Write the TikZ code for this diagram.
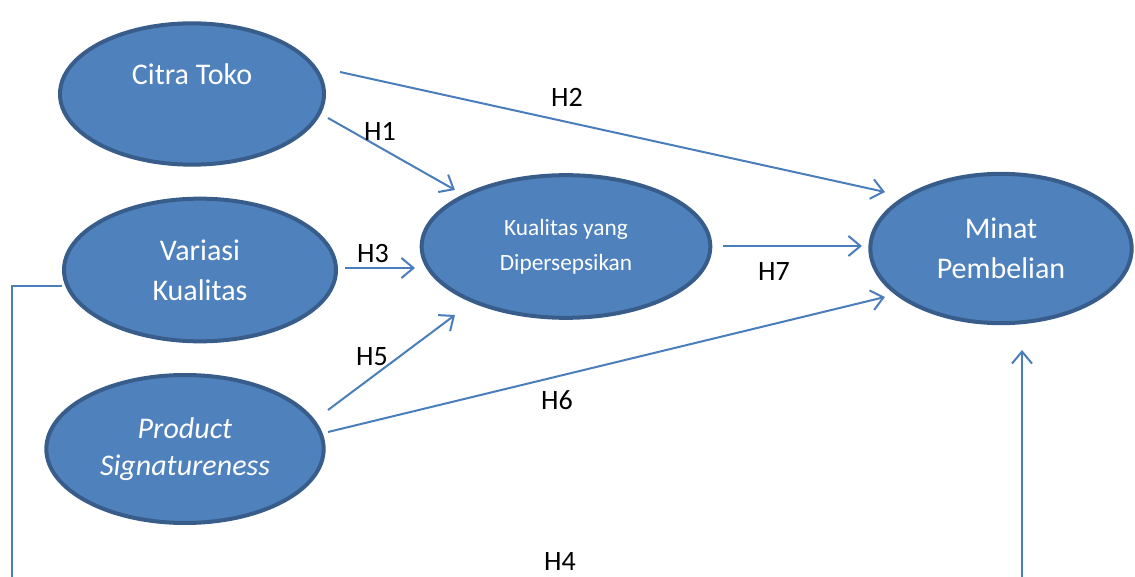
\documentclass[tikz,border=0pt]{standalone}
\usepackage{fontspec}
\setmainfont{Carlito}
\usetikzlibrary{arrows.meta,calc,shapes.geometric}

\definecolor{ovalfill}{HTML}{4F81BD}
\definecolor{ovalrim}{HTML}{385D8A}
\definecolor{linkblue}{HTML}{4A7EBB}

\tikzset{
  construct/.style={ellipse, draw=ovalrim, line width=3pt, fill=ovalfill,
    text=white, align=center, font=\fontsize{22.5}{30}\selectfont, inner sep=0pt},
  link/.style={draw=linkblue, line width=1.5pt,
    -{Straight Barb[length=9pt,width=15pt,line width=1.5pt]}},
  plainlink/.style={draw=linkblue, line width=1.5pt},
  hlabel/.style={text=black, font=\fontsize{21}{24}\selectfont, inner sep=0pt}
}

\begin{document}
\begin{tikzpicture}[x=0.75pt,y=-0.75pt]
  \useasboundingbox (0,0) rectangle (1135,577);

  % constructs
  \node[construct, minimum width=198pt, minimum height=106pt] (citra) at (192,94) {Citra Toko\\\mbox{}};
  \node[construct, minimum width=204pt, minimum height=107pt] (variasi) at (200,270) {Variasi\\Kualitas};
  \node[construct, minimum width=208pt, minimum height=111pt] (product) at (185,449)
    {\itshape Product\\[-2pt]\itshape Signatureness};
  \node[construct, minimum width=216.5pt, minimum height=107pt,
        font=\fontsize{17.5}{26}\selectfont] (kual) at (566,246.5) {Kualitas yang\\Dipersepsikan};
  \node[construct, minimum width=196pt, minimum height=112pt] (minat) at (1001,248.5) {Minat\\Pembelian};

  % paths
  \draw[link] ($(citra.center)+(148,-22)$) -- ($(minat.center)+(-116,-56.5)$);
  \draw[link] ($(citra.center)+(136,24)$) -- ($(kual.center)+(-111,-56.5)$);
  \draw[link] ($(variasi.center)+(145,-2)$) -- ($(kual.center)+(-151,21.5)$);
  \draw[link] ($(kual.center)+(157,-0.5)$) -- ($(minat.center)+(-139,-2.5)$);
  \draw[link] ($(product.center)+(143,-39)$) -- ($(kual.center)+(-111,68.5)$);
  \draw[link] ($(product.center)+(143,-17)$) -- ($(minat.center)+(-116,48.5)$);

  % path H4 running below the picture
  \coordinate (h4left) at (12,580);
  \coordinate (h4right) at (1022,580);
  \draw[plainlink] ($(variasi.center)+(-138,16)$) -| (h4left);
  \draw[link] (h4right) -- ($(minat.center)+(21,101.5)$);

  % hypothesis labels
  \node[hlabel] (lh1) at (380,131) {H1};
  \node[hlabel] (lh2) at (567,97) {H2};
  \node[hlabel] (lh3) at (373,254) {H3};
  \node[hlabel] (lh4) at (560,562) {H4};
  \node[hlabel] (lh5) at (372,357) {H5};
  \node[hlabel] (lh6) at (557,400) {H6};
  \node[hlabel] (lh7) at (774,272) {H7};
\end{tikzpicture}
\end{document}
